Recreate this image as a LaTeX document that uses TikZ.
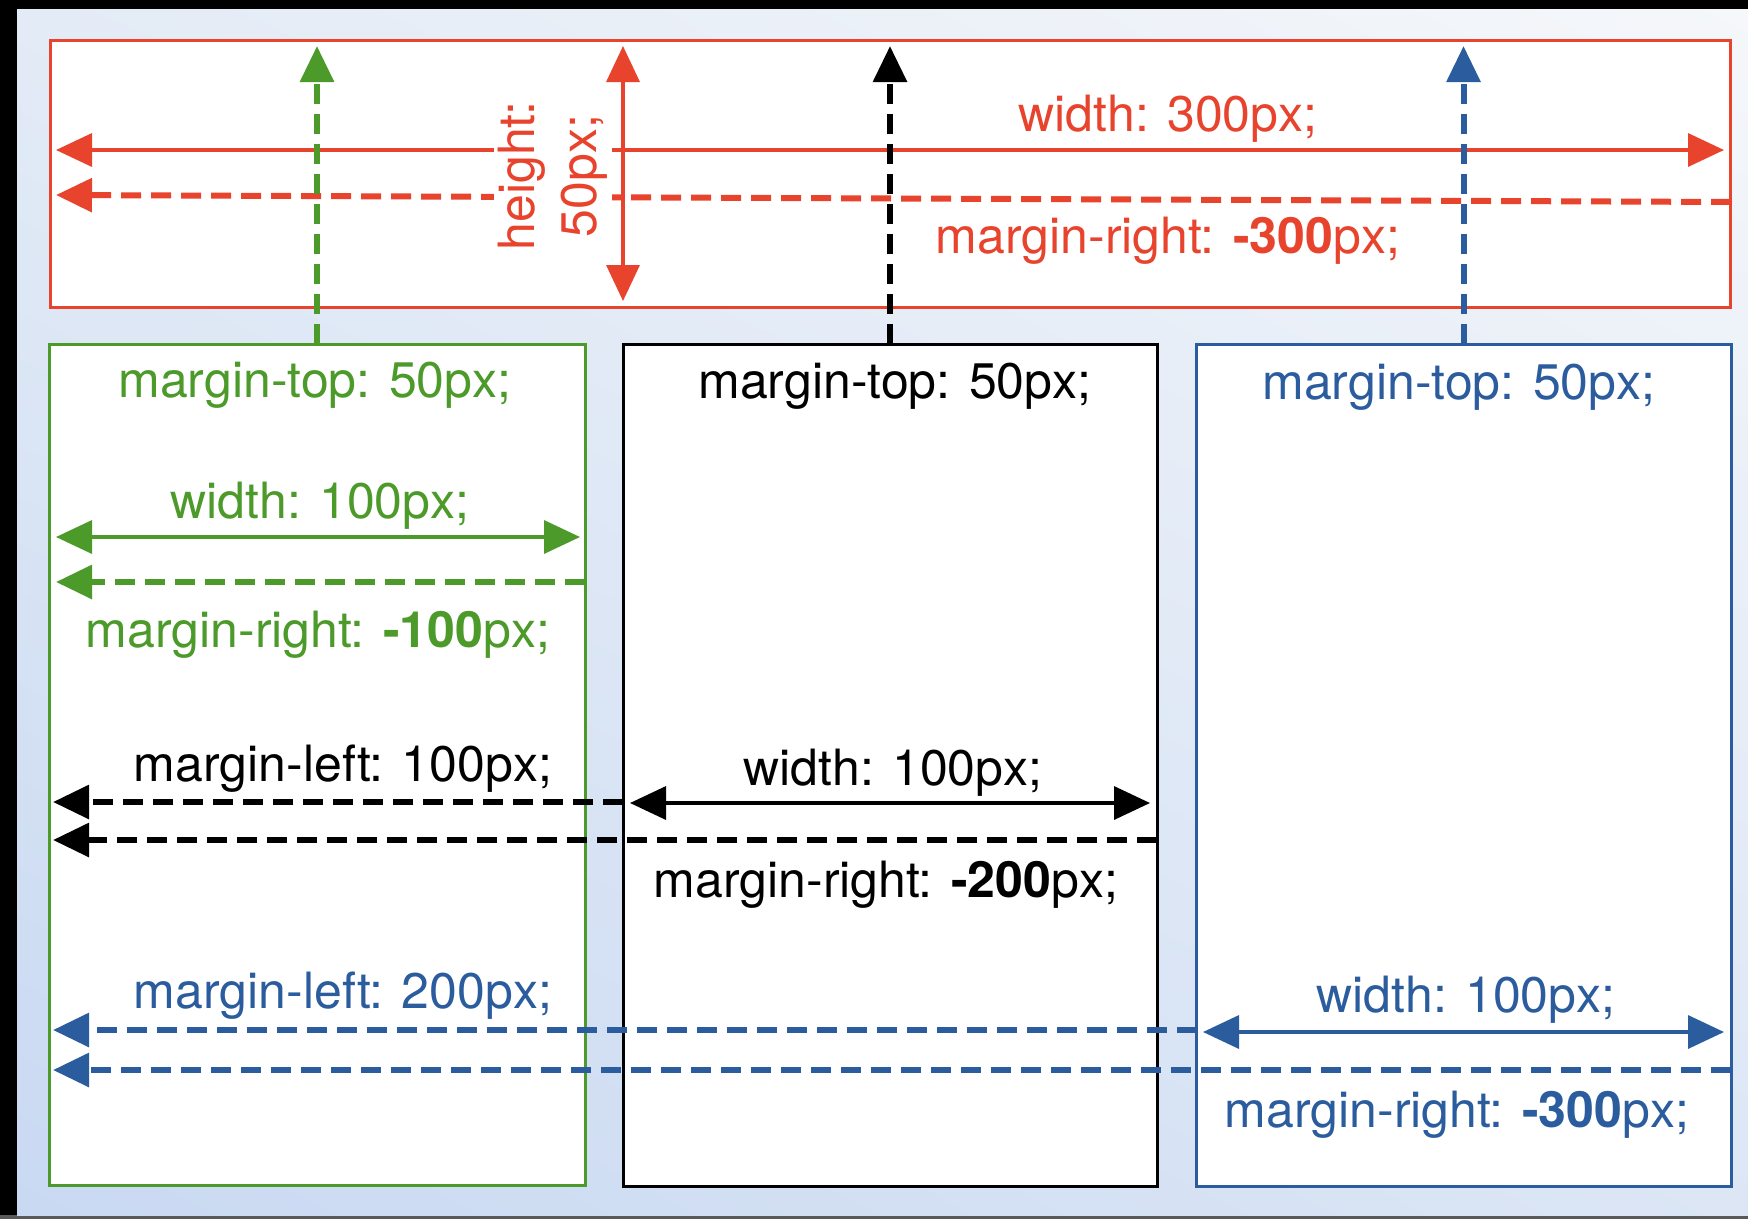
\documentclass[tikz,border=0pt]{standalone}
\usepackage{fontspec}
\setmainfont{TeX Gyre Heros}
\usetikzlibrary{arrows.meta,shadings}

\definecolor{cssred}{HTML}{E8432D}
\definecolor{cssgreen}{HTML}{4C9A2A}
\definecolor{cssblue}{HTML}{2B5C9E}
\definecolor{panelA}{HTML}{E3EBF6}
\definecolor{panelB}{HTML}{F5F7FA}
\definecolor{panelC}{HTML}{C9D9F2}
\definecolor{panelD}{HTML}{DCE6F5}

\begin{document}
\begin{tikzpicture}[x=1pt,y=-1pt,>={Triangle[length=36pt,width=33pt]},
    box/.style={draw,fill=white,line width=3pt,inner sep=0pt,outer sep=0pt,anchor=north west},
    sizeline/.style={line width=3.5pt,<->},
    marginline/.style={line width=6pt,dash pattern=on 20pt off 10pt,->},
    lbl/.style={font=\fontsize{50}{60}\selectfont,anchor=mid,inner sep=0pt}]

        \useasboundingbox (0,0) rectangle (1748,1219);

        % draw the window frame and the panel
        \fill[black] (0,0) rectangle (1748,1219);
        \fill[black!65] (0,1215) rectangle (1748,1219);
        \shade[upper left=panelA,upper right=panelB,lower left=panelC,lower right=panelD]
              (17,9) rectangle (1748,1215);

        % draw the wide red box and the three columns
        \node[box,draw=cssred,minimum width=1680pt,minimum height=267pt] (redbox) at (50,40) {};
        \node[box,draw=cssgreen,minimum width=536pt,minimum height=841pt] (greenbox) at (49,344) {};
        \node[box,draw=black,minimum width=534pt,minimum height=842pt] (blackbox) at (623,344) {};
        \node[box,draw=cssblue,minimum width=535pt,minimum height=842pt] (bluebox) at (1196,344) {};
        \coordinate (toptip) at (0,46);

        % red box: width and height, and the negative right margin
        \coordinate (rw1) at (56,150);
        \coordinate (rw2) at (1724,150);
        \coordinate (rm1) at (1731,202);
        \coordinate (rm2) at (56,195);
        \coordinate (rh1) at (623,46);
        \coordinate (rh2) at (623,301);
        \draw[sizeline,cssred] (rw1) -- (rw2);
        \draw[marginline,cssred] (rm1) -- (rm2);
        \node[font=\fontsize{50}{62}\selectfont,text=cssred,fill=white,rotate=90,
              align=center,inner sep=4pt] (h50) at (553,176) {height:\\50px;};
        \draw[sizeline,cssred] (rh1) -- (rh2);

        % margin-top arrows from the columns up into the red box
        \draw[marginline,cssgreen] (greenbox.north) -- (greenbox.north |- toptip);
        \draw[marginline,black] (blackbox.north) -- (blackbox.north |- toptip);
        \draw[marginline,cssblue] (bluebox.north) -- (bluebox.north |- toptip);

        % green column
        \coordinate (gw1) at (56,537);
        \coordinate (gw2) at (580,537);
        \coordinate (gm1) at (585,582);
        \coordinate (gm2) at (56,582);
        \draw[sizeline,cssgreen] (gw1) -- (gw2);
        \draw[marginline,cssgreen] (gm1) -- (gm2);

        % black column
        \coordinate (kl1) at (623,802);
        \coordinate (kl2) at (53,802);
        \coordinate (kw1) at (630,803);
        \coordinate (kw2) at (1150,803);
        \coordinate (km1) at (1157,840);
        \coordinate (km2) at (53,840);
        \draw[marginline,black] (kl1) -- (kl2);
        \draw[sizeline,black] (kw1) -- (kw2);
        \draw[marginline,black] (km1) -- (km2);

        % blue column
        \coordinate (bl1) at (1197,1030);
        \coordinate (bl2) at (53,1030);
        \coordinate (bw1) at (1203,1032);
        \coordinate (bw2) at (1724,1032);
        \coordinate (bm1) at (1731,1070);
        \coordinate (bm2) at (53,1070);
        \draw[marginline,cssblue] (bl1) -- (bl2);
        \draw[sizeline,cssblue] (bw1) -- (bw2);
        \draw[marginline,cssblue] (bm1) -- (bm2);

        % label the widths and margins
        \node[lbl,text=cssred] (w300) at (1168,129) {width: 300px;};
        \node[lbl,text=cssred] (mr300) at (1168,251) {margin-right: \textbf{-300}px;};
        \node[lbl,text=cssgreen] (gmt) at (315,395) {margin-top: 50px;};
        \node[lbl] (kmt) at (895,396) {margin-top: 50px;};
        \node[lbl,text=cssblue] (bmt) at (1459,397) {margin-top: 50px;};
        \node[lbl,text=cssgreen] (gw) at (320,516) {width: 100px;};
        \node[lbl,text=cssgreen] (gmr) at (318,645) {margin-right: \textbf{-100}px;};
        \node[lbl] (kml) at (343,779) {margin-left: 100px;};
        \node[lbl] (kw) at (893,783) {width: 100px;};
        \node[lbl] (kmr) at (886,895) {margin-right: \textbf{-200}px;};
        \node[lbl,text=cssblue] (bml) at (343,1006) {margin-left: 200px;};
        \node[lbl,text=cssblue] (bw) at (1466,1010) {width: 100px;};
        \node[lbl,text=cssblue] (bmr) at (1457,1125) {margin-right: \textbf{-300}px;};

\end{tikzpicture}
\end{document}
